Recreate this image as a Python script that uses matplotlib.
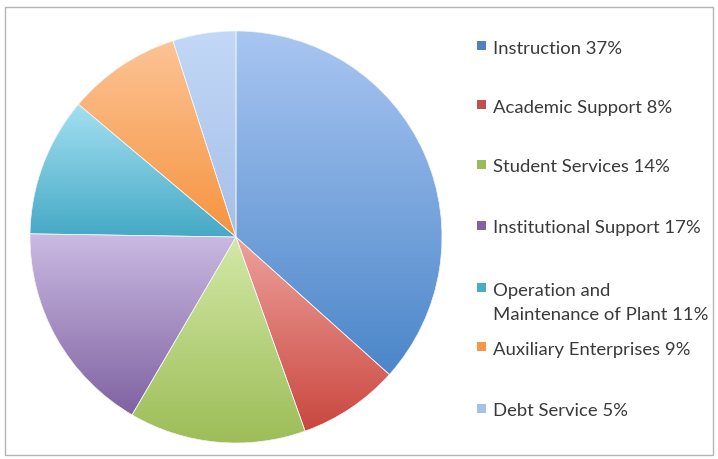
import matplotlib.pyplot as plt
import matplotlib.colors as mcolors
from matplotlib.patches import Rectangle
import numpy as np

# Donnees du graphique
categories = ['Instruction', 'Academic Support', 'Student Services',
              'Institutional Support', 'Operation and\nMaintenance of Plant',
              'Auxiliary Enterprises', 'Debt Service']
percents = [37, 8, 14, 17, 11, 9, 5]

# couleurs (clair en haut, fonce en bas)
light_colors = ['#a9c6f2', '#eea19c', '#d3e8a6', '#cbbbe3', '#a4e0f2', '#fcc495', '#c3d8f7']
dark_colors = ['#4b86c9', '#c9473f', '#9cbd58', '#7f62a1', '#45a9c5', '#f6933f', '#a4bfe8']
legend_colors = ['#4f81bd', '#c0504d', '#9bbb59', '#8064a2', '#4bacc6', '#f79646', '#a7c0e6']

fig = plt.figure(figsize=(7.18, 4.59), dpi=100)
W, H = 718, 459

# cadre gris autour du graphique
fig.patches.append(Rectangle((5 / W, 4 / H), 708 / W, 448 / H, transform=fig.transFigure,
                             fill=False, edgecolor='#b4b4b4', linewidth=1.0))

# axes pour le camembert
cx, cy, r = 236, 237, 206
ax = fig.add_axes([(cx - r) / W, (H - cy - r) / H, 2 * r / W, 2 * r / H])
wedges, _ = ax.pie(percents, startangle=90, counterclock=False,
                   colors=dark_colors, radius=1.0,
                   wedgeprops=dict(edgecolor='#f4f4f4', linewidth=0.5))
ax.set_aspect('equal')
ax.axis('off')

# degrade vertical dans chaque part
grad = np.linspace(1, 0, 256).reshape(-1, 1)
for w, c1, c2 in zip(wedges, light_colors, dark_colors):
    verts = w.get_patch_transform().transform(w.get_path().vertices)
    x0, x1 = verts[:, 0].min(), verts[:, 0].max()
    y0, y1 = verts[:, 1].min(), verts[:, 1].max()
    cmap = mcolors.LinearSegmentedColormap.from_list('g', [c2, c1])
    im = ax.imshow(grad, cmap=cmap, extent=[x0, x1, y0, y1], origin='upper',
                   aspect='auto', zorder=w.get_zorder() - 0.1)
    im.set_clip_path(w)
    w.set_facecolor('none')
ax.set_xlim(-1, 1)
ax.set_ylim(-1, 1)

# legende a droite (centre vertical de la premiere ligne)
label_y = [47, 106, 166, 227, 289, 348, 410]
line_px = 25
for cat, p, col, yy in zip(categories, percents, legend_colors, label_y):
    fig.patches.append(Rectangle((477 / W, (H - yy - 3) / H), 9 / W, 9 / H,
                                 transform=fig.transFigure, facecolor=col,
                                 edgecolor='none'))
    extra = cat.count('\n') * line_px   # 'baseline' = derniere ligne
    fig.text(493 / W, (H - yy - 6.5 - extra) / H, f'{cat} {p}%', ha='left', va='baseline',
             fontsize=13.3, family='Lato', color='#3a3a3a', linespacing=1.63)

fig.savefig('out.png', dpi=100)
